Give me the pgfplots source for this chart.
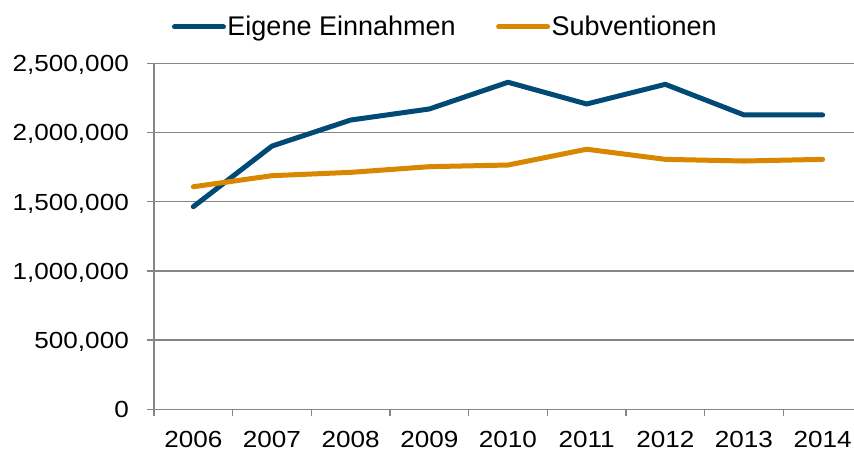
\documentclass[border=0pt]{standalone}
\usepackage{fontspec}
\setmainfont{Liberation Sans}[FakeStretch=1.12]
\newfontfamily\legfont{Liberation Sans}
\usepackage{pgfplots}
\pgfplotsset{compat=1.18}
\definecolor{cblue}{RGB}{0,74,117}
\definecolor{corange}{RGB}{217,134,0}
\definecolor{cgrid}{RGB}{134,134,134}
\begin{document}
\fontsize{23.3}{28}\selectfont
\begin{tikzpicture}[font=\fontsize{23.3}{28}\selectfont]
\begin{axis}[
  at={(0,0)}, anchor=south west,
  scale only axis, width=708pt, height=346pt,
  xmin=-0.5, xmax=8.5, ymin=0, ymax=2500000,
  axis x line*=bottom, axis y line*=left,
  axis line style={cgrid, line width=1.5pt},
  xtick={0,...,8},
  xticklabels={2006,2007,2008,2009,2010,2011,2012,2013,2014},
  major x tick style={draw=none},
  minor xtick={-0.5,0.5,...,8.5},
  minor tick length=7pt, major tick length=7pt,
  tick align=outside,
  tick style={cgrid, line width=1.5pt},
  ytick={0,500000,...,2500000},
  scaled y ticks=false,
  /pgf/number format/fixed,
  /pgf/number format/1000 sep={,},
  /pgf/number format/assume math mode=true,
  yticklabel style={anchor=base east, inner sep=0pt, xshift=-18pt, yshift=-8.3pt},
  xticklabel style={anchor=base, inner sep=0pt, yshift=-31.4pt},
  every tick label/.append style={font=\fontsize{23.3}{28}\selectfont},
  ymajorgrids, grid style={cgrid, line width=1.5pt},
  legend columns=-1,
  legend style={at={(axis description cs:0.0254,1.105)}, anchor=west, draw=none, fill=none,
    inner sep=0pt, outer sep=0pt, font=\legfont\fontsize{27}{32}\selectfont,
    nodes={inner sep=1.5pt},
    /tikz/every even column/.append style={column sep=39pt}},
  legend image code/.code={\draw[#1, line cap=round] (0pt,0pt) -- (49pt,0pt);},
]
\addplot[cblue, line width=5pt, line join=round, line cap=round] coordinates {
  (0,1464000) (1,1902000) (2,2090000) (3,2170000) (4,2363000) (5,2206000) (6,2348000) (7,2127000) (8,2127000)};
\addlegendentry{Eigene Einnahmen}
\addplot[corange, line width=5pt, line join=round, line cap=round] coordinates {
  (0,1608000) (1,1688000) (2,1712000) (3,1753000) (4,1765000) (5,1879000) (6,1806000) (7,1794000) (8,1806000)};
\addlegendentry{Subventionen}
\end{axis}
\pgfresetboundingbox
\path (-154pt,-40.7pt) rectangle (700pt,409.3pt);
\end{tikzpicture}
\end{document}
